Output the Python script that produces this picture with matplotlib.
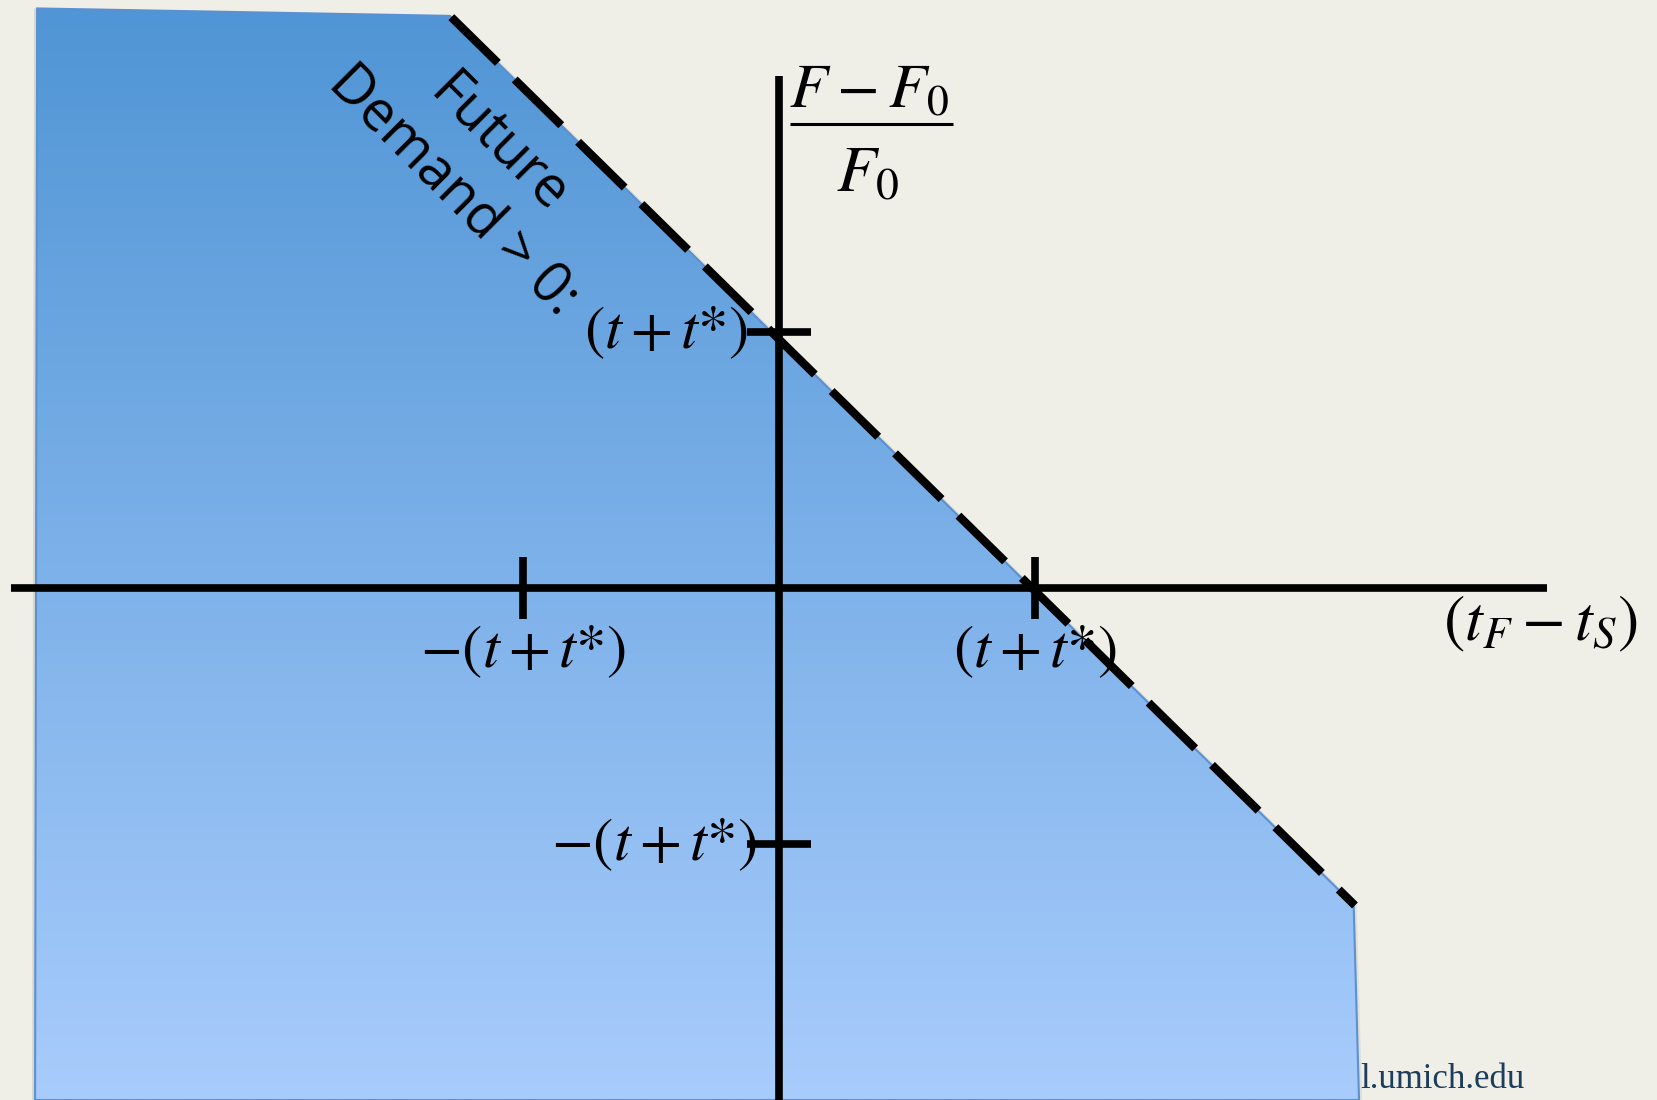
import matplotlib
matplotlib.use("Agg")
import matplotlib.pyplot as plt
import numpy as np
from matplotlib.patches import Polygon

plt.rcParams['mathtext.fontset'] = 'stix'
plt.rcParams['lines.scale_dashes'] = False

# ---- data (in units of (t+t*)) ----
region_x = [-2.898, -1.285, 2.245, 2.266, -2.906]
region_y = [2.264, 2.235, -1.237, -2.0, -2.0]
boundary_x = [-1.28, 2.25]
boundary_y = [2.23, -1.24]
xaxis_span = [-3.0, 3.0]
yaxis_span = [-2.0, 2.0]
xtick_pos = [-1.0, 1.0]
ytick_pos = [1.0, -1.0]
xtick_labels = [r'$-(t+t\text{*})$', r'$(t+t\text{*})$']
ytick_labels = [r'$(t+t\text{*})$', r'$-(t+t\text{*})$']
xlabel = r'$(t_F-t_S)$'
ylabel_num = r'$F-F_{\mathrm{0}}$'
ylabel_den = r'$F_{\mathrm{0}}$'
region_label = 'Future\nDemand > 0:'
source_text = 'l.umich.edu'

BG = '#f0efe7'
fig = plt.figure(figsize=(16.57, 11.0), dpi=100, facecolor=BG)
ax = fig.add_axes([0, 0, 1, 1])
ax.set_facecolor(BG)
ax.set_xlim(-3.043, 3.430)
ax.set_ylim(-2.0, 2.297)
ax.set_aspect('auto')
ax.axis('off')

# shaded region with vertical gradient
verts = np.column_stack([region_x, region_y])
shadow = Polygon(verts + np.array([-0.012, 0.0]), closed=True, facecolor='#c9c7bd',
                 edgecolor='none', alpha=0.6, zorder=1)
ax.add_patch(shadow)
shadow2 = Polygon(verts + np.array([0.012, 0.0]), closed=True, facecolor='#d6d4ca',
                  edgecolor='none', alpha=0.6, zorder=1)
ax.add_patch(shadow2)
poly = Polygon(verts, closed=True, facecolor='none', edgecolor='#5b90d2', lw=1.5, zorder=3)
ax.add_patch(poly)
top = np.array([80, 149, 213]) / 255
bot = np.array([168, 204, 252]) / 255
t = np.linspace(0, 1, 256)[:, None]
grad = (top[None, :] * (1 - t) + bot[None, :] * t)[:, None, :]
ymin, ymax = min(region_y), max(region_y)
im = ax.imshow(grad, extent=[min(region_x), max(region_x), ymin, ymax],
               origin='upper', aspect='auto', zorder=2, interpolation='bilinear')
clip = Polygon(verts, closed=True, transform=ax.transData)
im.set_clip_path(clip)

# dashed boundary
ax.plot(boundary_x, boundary_y, color='black', lw=6,
        linestyle=(0, (47, 17)), dash_capstyle='butt', zorder=5)

# axes
ax.plot(xaxis_span, [0, 0], color='black', lw=5.5, solid_capstyle='butt', zorder=6)
ax.plot([0, 0], yaxis_span, color='black', lw=5.5, solid_capstyle='butt', zorder=6)
for xp in xtick_pos:
    ax.plot([xp, xp], [-0.12, 0.12], color='black', lw=5.5, solid_capstyle='butt', zorder=6)
for yp in ytick_pos:
    ax.plot([-0.125, 0.125], [yp, yp], color='black', lw=5.5, solid_capstyle='butt', zorder=6)

# labels
fs = 44
for xp, lab in zip(xtick_pos, xtick_labels):
    ax.text(xp, -0.246, lab, fontsize=fs, ha='center', va='center', zorder=7)
ax.text(-0.121, 1.0, ytick_labels[0], fontsize=fs, ha='right', va='center', zorder=7)
ax.text(-0.086, -1.0, ytick_labels[1], fontsize=fs, ha='right', va='center', zorder=7)
ax.text(3.355, -0.137, xlabel, fontsize=46, ha='right', va='center', zorder=7)

# y label as a stacked fraction
ax.text(0.35, 1.945, ylabel_num, fontsize=45, ha='center', va='center', zorder=7)
ax.plot([0.043, 0.68], [1.8125, 1.8125], color='black', lw=2.2, solid_capstyle='butt', zorder=7)
ax.text(0.348, 1.617, ylabel_den, fontsize=47, ha='center', va='center', zorder=7)

ax.text(-1.185, 1.640, region_label, fontsize=40, family=['Open Sans', 'DejaVu Sans'],
        rotation=-45, rotation_mode='anchor', ha='center', va='center',
        multialignment='center', linespacing=1.2, zorder=7)

ax.text(2.272, -1.955, source_text, fontsize=25, family=['Liberation Serif', 'DejaVu Serif'],
        color='#1d3d5c', ha='left', va='baseline', zorder=7)

fig.savefig('out.png', dpi=100, facecolor=BG)
